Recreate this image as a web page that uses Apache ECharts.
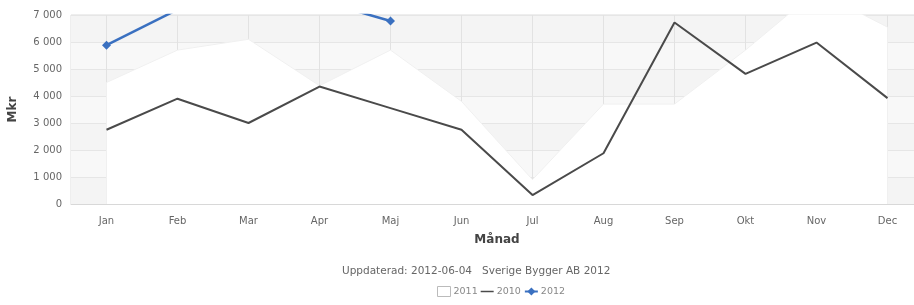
<!DOCTYPE html>
<html><head><meta charset="utf-8">
<script src="https://cdn.jsdelivr.net/npm/echarts@6/dist/echarts.min.js"></script>
<style>html,body{margin:0;padding:0;background:#fff}#c{width:914px;height:305px}</style>
</head><body><div id="c"></div>
<script>
const months = ['Jan','Feb','Mar','Apr','Maj','Jun','Jul','Aug','Sep','Okt','Nov','Dec'];
const s2011 = [4500, 5700, 6100, 4380, 5700, 3800, 900, 3700, 3700, 5700, 7900, 6550];
const s2010 = [2750, 3900, 3000, 4350, 3550, 2750, 330, 1880, 6720, 4820, 5980, 3920];
const s2012 = [5880, 7200, 8000, 7530, 6780, null, null, null, null, null, null, null];
const yTicks = [0, 1000, 2000, 3000, 4000, 5000, 6000, 7000];
const footer = 'Uppdaterad: 2012-06-04   Sverige Bygger AB 2012';

const chart = echarts.init(document.getElementById('c'));
const fmt = v => { const s = String(v); return s.length > 3 ? s.slice(0, -3) + ' ' + s.slice(-3) : s; };
chart.setOption({
  animation: false,
  backgroundColor: '#fff',
  textStyle: { fontFamily: 'DejaVu Sans' },
  grid: { left: 71, top: 15, width: 852, bottom: 101, outerBoundsMode: 'none', containLabel: false,
    show: true, backgroundColor: '#f5f5f5', borderColor: '#dcdcdc', borderWidth: 1 },
  graphic: [{ type: 'text', left: 342, top: 266, style: { text: footer, fill: '#666', font: '10.5px "DejaVu Sans"' } }],
  legend: {
    bottom: 3, left: 432, itemWidth: 13, itemHeight: 10, itemGap: 3,
    textStyle: { color: '#888', fontSize: 9.5, fontFamily: 'DejaVu Sans', padding: [0, 0, 0, -2] },
    data: [
      { name: '2011', icon: 'rect', itemStyle: { color: '#fff', borderColor: '#bbb', borderWidth: 1 } },
      { name: '2010', icon: 'path://M0,4L14,4L14,5.6L0,5.6Z', itemStyle: { color: '#4a4a4a' } },
      { name: '2012' }
    ]
  },
  xAxis: {
    type: 'category', data: months, boundaryGap: true,
    name: 'Månad', nameLocation: 'middle', nameGap: 30,
    nameTextStyle: { fontWeight: 'bold', fontSize: 12, color: '#444' },
    axisLine: { lineStyle: { color: '#d8d8d8' } },
    axisTick: { alignWithLabel: true, length: 4, lineStyle: { color: '#ccc' } },
    axisLabel: { color: '#666', fontSize: 10, margin: 12 },
    splitLine: { show: true, alignWithLabel: true, lineStyle: { color: '#e2e2e2' } }
  },
  yAxis: {
    type: 'value', min: 0, max: 7000, interval: 1000,
    name: 'Mkr', nameLocation: 'middle', nameGap: 52, nameRotate: 90,
    nameTextStyle: { fontWeight: 'bold', fontSize: 12, color: '#444' },
    axisLine: { show: false }, axisTick: { show: false },
    axisLabel: { color: '#666', fontSize: 10, margin: 9, formatter: v => yTicks.includes(v) ? fmt(v) : '' },
    splitLine: { lineStyle: { color: '#e6e6e6' } },
    splitArea: { show: true, areaStyle: { color: ['#f4f4f4', '#f8f8f8'] } }
  },
  series: [
    { name: '2011', type: 'line', data: s2011, symbol: 'none', z: 1,
      lineStyle: { color: '#f0f0f0', width: 1 }, itemStyle: { color: '#fff', borderColor: '#bbb' },
      areaStyle: { color: '#fff', opacity: 1 } },
    { name: '2010', type: 'line', data: s2010, symbol: 'none', z: 2,
      lineStyle: { color: '#4a4a4a', width: 2 }, itemStyle: { color: '#4a4a4a' } },
    { name: '2012', type: 'line', data: s2012, symbol: 'diamond', symbolSize: 9, showSymbol: true, z: 3,
      lineStyle: { color: '#3a70c0', width: 2.5 }, itemStyle: { color: '#3a70c0' } }
  ]
});
</script></body></html>
